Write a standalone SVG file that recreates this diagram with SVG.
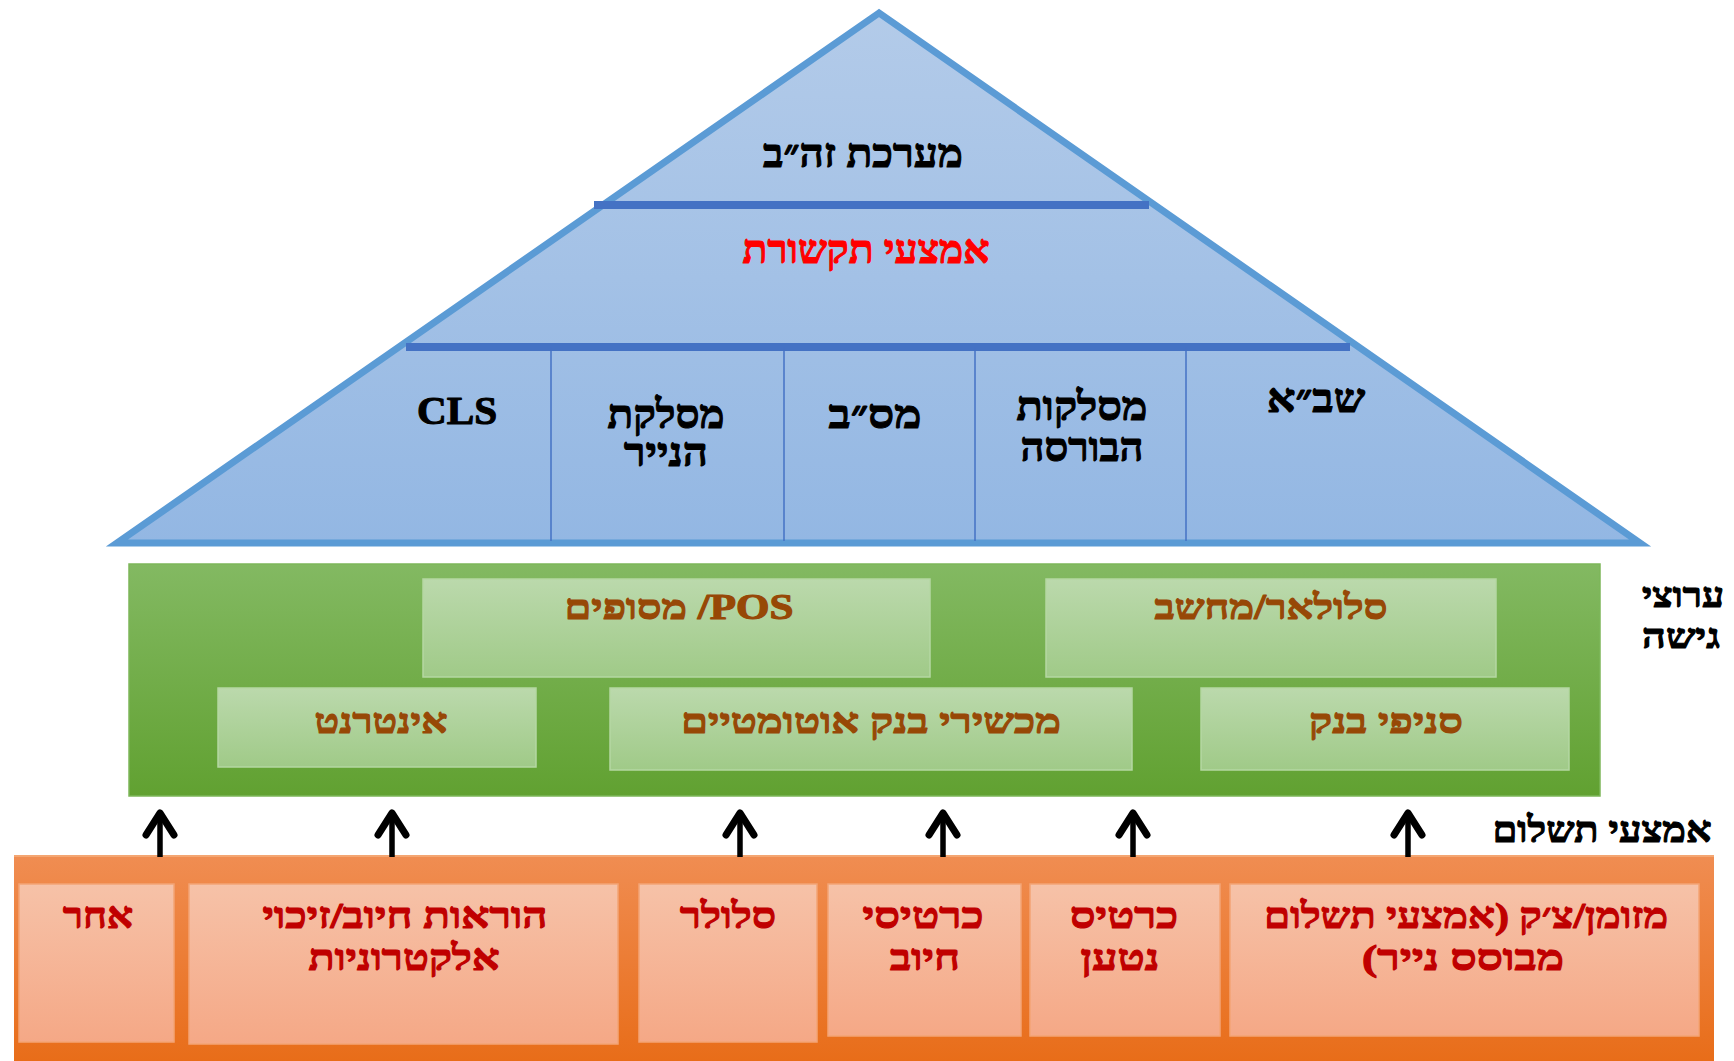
<svg xmlns="http://www.w3.org/2000/svg" width="1734" height="1061" viewBox="0 0 1734 1061">
<defs>
<linearGradient id="gPyr" x1="0" y1="0" x2="0" y2="1"><stop offset="0" stop-color="#B3CBE9"/><stop offset="1" stop-color="#93B7E3"/></linearGradient>
<linearGradient id="gGreen" x1="0" y1="0" x2="0" y2="1"><stop offset="0" stop-color="#83B962"/><stop offset="1" stop-color="#61A131"/></linearGradient>
<linearGradient id="gGreenIn" x1="0" y1="0" x2="0" y2="1"><stop offset="0" stop-color="#BBD9AC"/><stop offset="1" stop-color="#A0CA88"/></linearGradient>
<linearGradient id="gOrange" x1="0" y1="0" x2="0" y2="1"><stop offset="0" stop-color="#F08D52"/><stop offset="1" stop-color="#E86D19"/></linearGradient>
<linearGradient id="gSalmon" x1="0" y1="0" x2="0" y2="1"><stop offset="0" stop-color="#F6C2A8"/><stop offset="1" stop-color="#F5A886"/></linearGradient>
<marker id="head" markerUnits="userSpaceOnUse" orient="auto" markerWidth="40" markerHeight="40" refX="0" refY="0" overflow="visible">
<path d="M-22,-14 L0,0 L-22,14" fill="none" stroke="#000" stroke-width="7" stroke-linejoin="round" stroke-linecap="round"/>
</marker>
<style>
text{font-family:"Liberation Serif","DejaVu Serif",serif;font-weight:bold;text-anchor:middle;direction:rtl;stroke-width:1.1px;stroke-linejoin:round}
.blk{fill:#000;stroke:#000}
.red{fill:#FF0000;stroke:#FF0000}
.brn{fill:#974806;stroke:#974806}
.dred{fill:#C00000;stroke:#C00000}
.pyr{font-size:40px}
.grn{font-size:35px}
.org{font-size:36px}
.div{stroke:#4472C4;stroke-width:8}
.vl{stroke:#4472C4;stroke-width:1.5}
.gin{fill:url(#gGreenIn);stroke:#B5D7A3;stroke-width:1.5}
.sin{fill:url(#gSalmon);stroke:#F3A475;stroke-width:1.5}
.arr{stroke:#000;stroke-width:5.5;marker-end:url(#head)}
</style>
</defs>

<g id="pyramid">
<polygon points="879,13 117,543 1640,543" fill="url(#gPyr)" stroke="#5B9BD5" stroke-width="7"/>
<line class="div" x1="594" y1="205" x2="1149" y2="205"/>
<line class="div" x1="406" y1="347" x2="1350" y2="347"/>
<line class="vl" x1="551" y1="347" x2="551" y2="541"/>
<line class="vl" x1="784" y1="347" x2="784" y2="541"/>
<line class="vl" x1="975" y1="347" x2="975" y2="541"/>
<line class="vl" x1="1186" y1="347" x2="1186" y2="541"/>
</g>

<g id="node-zahav"><text class="pyr blk" x="863" y="167" textLength="200" lengthAdjust="spacingAndGlyphs">מערכת זה״ב</text></g>
<g id="node-comm"><text class="pyr red" x="866" y="263" textLength="247" lengthAdjust="spacingAndGlyphs">אמצעי תקשורת</text></g>
<g id="node-cls"><text class="pyr blk" x="457" y="424" textLength="80" lengthAdjust="spacingAndGlyphs">CLS</text></g>
<g id="node-paper"><text class="pyr blk" x="666" y="428" textLength="117" lengthAdjust="spacingAndGlyphs">מסלקת</text><text class="pyr blk" x="666" y="466" textLength="84" lengthAdjust="spacingAndGlyphs">הנייר</text></g>
<g id="node-masav"><text class="pyr blk" x="875" y="428" textLength="93" lengthAdjust="spacingAndGlyphs">מס״ב</text></g>
<g id="node-bourse"><text class="pyr blk" x="1082" y="420" textLength="131" lengthAdjust="spacingAndGlyphs">מסלקות</text><text class="pyr blk" x="1082" y="461" textLength="123" lengthAdjust="spacingAndGlyphs">הבורסה</text></g>
<g id="node-shva"><text class="pyr blk" x="1316" y="412" textLength="98" lengthAdjust="spacingAndGlyphs">שב״א</text></g>

<g id="access-channels">
<rect x="129" y="564" width="1471" height="232" fill="url(#gGreen)" stroke="#7DB75A" stroke-width="1.5"/>
</g>
<g id="node-pos"><rect class="gin" x="423" y="579" width="507" height="98"/><text class="grn brn" x="679" y="619" textLength="229" lengthAdjust="spacingAndGlyphs">POS/ מסופים</text></g>
<g id="node-cellular"><rect class="gin" x="1046" y="579" width="450" height="98"/><text class="grn brn" x="1271" y="619" textLength="233" lengthAdjust="spacingAndGlyphs">סלולאר/מחשב</text></g>
<g id="node-internet"><rect class="gin" x="218" y="688" width="318" height="79"/><text class="grn brn" x="381" y="733" textLength="133" lengthAdjust="spacingAndGlyphs">אינטרנט</text></g>
<g id="node-atm"><rect class="gin" x="610" y="688" width="522" height="82"/><text class="grn brn" x="871" y="733" textLength="380" lengthAdjust="spacingAndGlyphs">מכשירי בנק אוטומטיים</text></g>
<g id="node-branches"><rect class="gin" x="1201" y="688" width="368" height="82"/><text class="grn brn" x="1386" y="733" textLength="154" lengthAdjust="spacingAndGlyphs">סניפי בנק</text></g>

<g id="label-access"><text class="blk" font-size="34" x="1683" y="607" textLength="82" lengthAdjust="spacingAndGlyphs">ערוצי</text><text class="blk" font-size="34" x="1681" y="648" textLength="78" lengthAdjust="spacingAndGlyphs">גישה</text></g>
<g id="label-payment"><text class="blk" font-size="36" x="1602" y="842" textLength="219" lengthAdjust="spacingAndGlyphs">אמצעי תשלום</text></g>

<g id="payment-means">
<rect x="14" y="855" width="1700" height="206" fill="url(#gOrange)"/>
<line x1="14" y1="856" x2="1714" y2="856" stroke="#F4A672" stroke-width="2"/>
</g>
<g id="node-other"><rect class="sin" x="19" y="884" width="155" height="158"/><text class="org dred" x="98" y="928" textLength="70" lengthAdjust="spacingAndGlyphs">אחר</text></g>
<g id="node-eft"><rect class="sin" x="189" y="884" width="429" height="160"/><text class="org dred" x="405" y="928" textLength="285" lengthAdjust="spacingAndGlyphs">הוראות חיוב/זיכוי</text><text class="org dred" x="404" y="970" textLength="191" lengthAdjust="spacingAndGlyphs">אלקטרוניות</text></g>
<g id="node-mobile"><rect class="sin" x="639" y="884" width="178" height="158"/><text class="org dred" x="728" y="928" textLength="96" lengthAdjust="spacingAndGlyphs">סלולר</text></g>
<g id="node-debit"><rect class="sin" x="828" y="884" width="193" height="152"/><text class="org dred" x="923" y="928" textLength="121" lengthAdjust="spacingAndGlyphs">כרטיסי</text><text class="org dred" x="925" y="970" textLength="70" lengthAdjust="spacingAndGlyphs">חיוב</text></g>
<g id="node-prepaid"><rect class="sin" x="1030" y="884" width="190" height="152"/><text class="org dred" x="1124" y="928" textLength="108" lengthAdjust="spacingAndGlyphs">כרטיס</text><text class="org dred" x="1120" y="970" textLength="79" lengthAdjust="spacingAndGlyphs">נטען</text></g>
<g id="node-cash"><rect class="sin" x="1230" y="884" width="469" height="152"/><text class="org dred" x="1466" y="928" textLength="404" lengthAdjust="spacingAndGlyphs">מזומן/צ׳ק (אמצעי תשלום</text><text class="org dred" x="1463" y="970" textLength="202" lengthAdjust="spacingAndGlyphs">מבוסס נייר)</text></g>

<g id="connectors">
<line class="arr" x1="160" y1="857" x2="160" y2="813"/>
<line class="arr" x1="392" y1="857" x2="392" y2="813"/>
<line class="arr" x1="740" y1="857" x2="740" y2="813"/>
<line class="arr" x1="943" y1="857" x2="943" y2="813"/>
<line class="arr" x1="1133" y1="857" x2="1133" y2="813"/>
<line class="arr" x1="1408" y1="857" x2="1408" y2="813"/>
</g>
</svg>
